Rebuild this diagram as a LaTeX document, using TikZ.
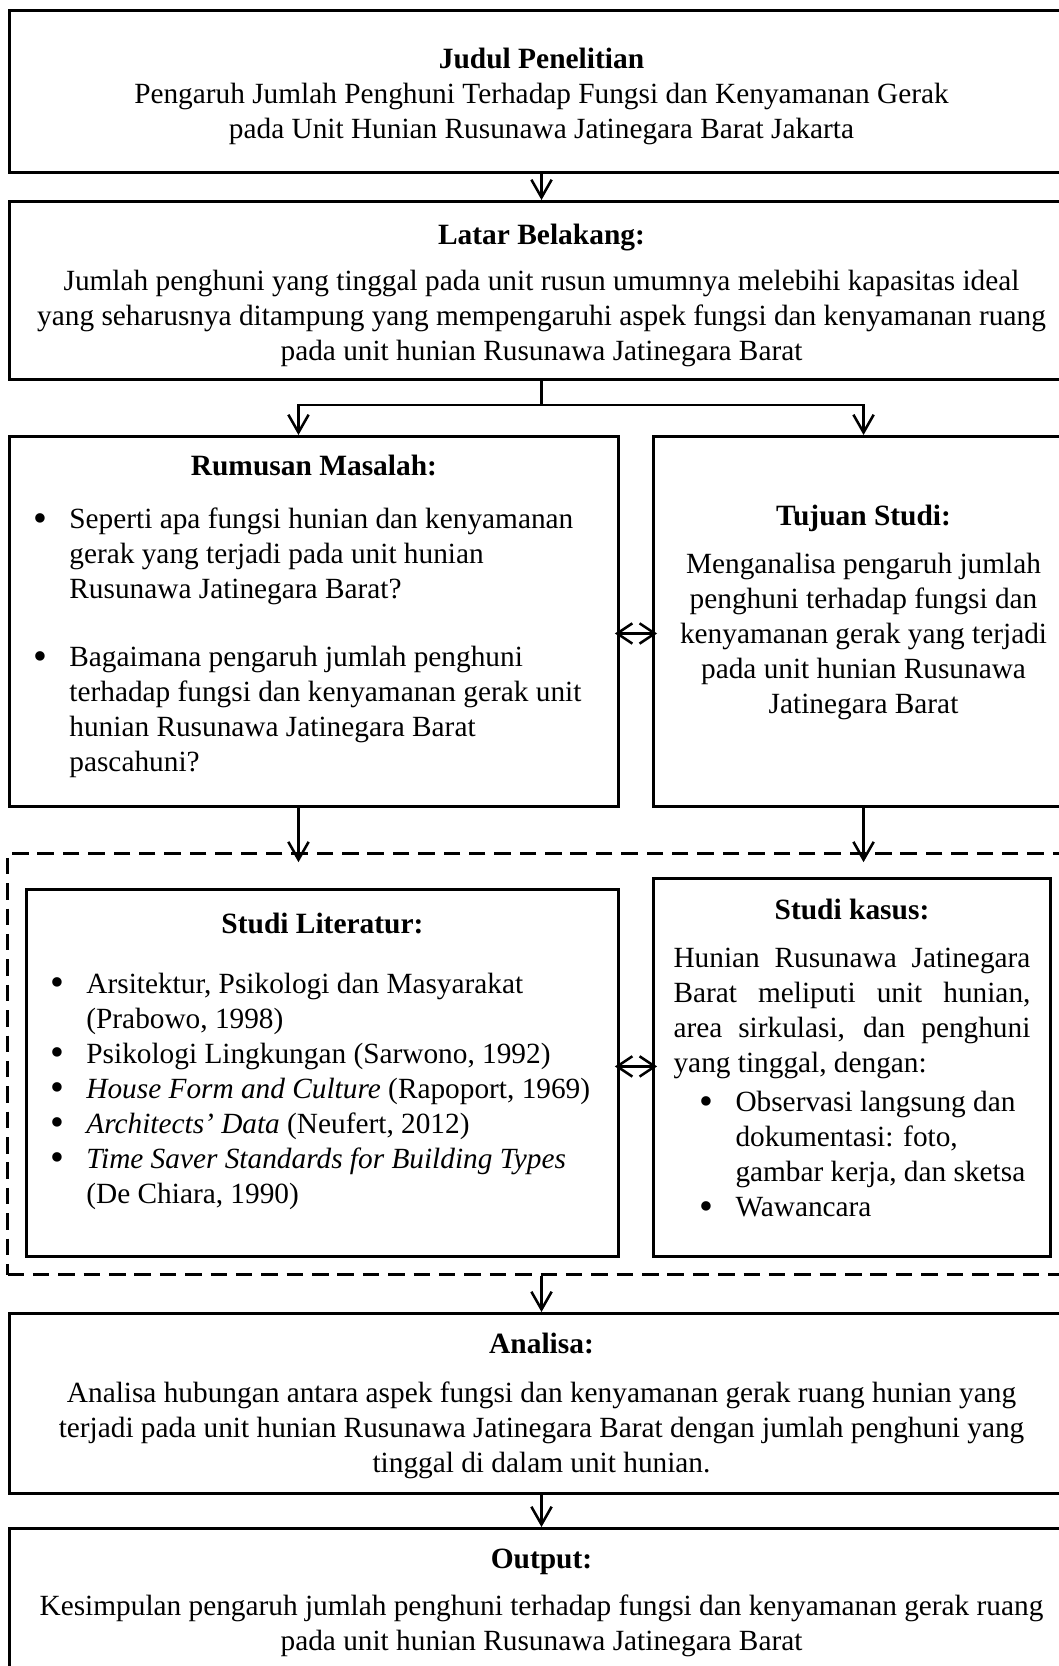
\documentclass[tikz,border=0pt]{standalone}
\usepackage{fontspec}
\setmainfont{Liberation Serif}
\usepackage{enumitem}
\usepackage{graphicx}
\usetikzlibrary{arrows.meta,positioning,calc}
\newcommand{\bigbullet}{\raisebox{-0.08em}{\scalebox{1.35}{\textbullet}}}
\newcommand{\boxtitle}[1]{{\fontsize{11.6}{13.8}\selectfont\textbf{#1}}}
\setlist[itemize]{label=\bigbullet, topsep=0pt, partopsep=0pt, parsep=0pt, itemsep=0pt,
  leftmargin=23.6pt, labelsep=8.8pt}
\tikzset{
  flow/.style={-{Straight Barb[length=7pt,width=8pt]}, line width=1pt},
  link/.style={line width=1pt},
  mutual/.style={{Straight Barb[length=6pt,width=8pt]}-{Straight Barb[length=6pt,width=8pt]},
                 line width=1pt, shorten <=-2pt, shorten >=-2pt},
  box/.style={draw, line width=1.2pt, anchor=north west, inner sep=0pt, align=flush center,
              font=\fontsize{11.55}{13.8}\selectfont},
  listbox/.style={box, align=flush left},
  studyframe/.style={draw, line width=1.2pt, dash pattern=on 6.5pt off 3.5pt,
                     anchor=north west, inner sep=0pt},
}

\begin{document}
\begin{tikzpicture}[x=0.394pt, y=-0.394pt]
  \useasboundingbox (0,0) rectangle (1059,1666);
  \clip (0,0) rectangle (1059,1666);

  \node[box, text width=419.2pt, text height=22.9pt, text depth=41pt] (judul) at (8,9)
    {\boxtitle{Judul Penelitian}\\
     Pengaruh Jumlah Penghuni Terhadap Fungsi dan Kenyamanan Gerak\\
     pada Unit Hunian Rusunawa Jatinegara Barat Jakarta};
  \node[box, text width=419.2pt, text height=16.9pt, text depth=53.2pt] (latar) at (8,200)
    {\boxtitle{Latar Belakang:}\\[4.3pt]
     Jumlah penghuni yang tinggal pada unit rusun umumnya melebihi kapasitas ideal\\
     yang seharusnya ditampung yang mempengaruhi aspek fungsi dan kenyamanan ruang\\
     pada unit hunian Rusunawa Jatinegara Barat};

  \node[listbox, text width=239.9pt, text height=15.4pt, text depth=130.4pt] (rumusan) at (8,435)
    {{\centering\boxtitle{Rumusan Masalah:}\par}
     \vspace{7.1pt}
     \begin{itemize}[itemsep=13pt]
       \item Seperti apa fungsi hunian dan kenyamanan\\ gerak yang terjadi pada unit hunian\\
             Rusunawa Jatinegara Barat?
       \item Bagaimana pengaruh jumlah penghuni\\ terhadap fungsi dan kenyamanan gerak unit\\
             hunian Rusunawa Jatinegara Barat\\ pascahuni?
     \end{itemize}};
  \node[box, text width=165.5pt, text height=35.1pt, text depth=110.7pt] (tujuan) at (652,435)
    {\boxtitle{Tujuan Studi:}\\[5.1pt]
     Menganalisa pengaruh jumlah\\ penghuni terhadap fungsi dan\\ kenyamanan gerak yang terjadi\\
     pada unit hunian Rusunawa\\ Jatinegara Barat};

  % kerangka studi (garis putus-putus)
  \node[studyframe, minimum width=421.2pt, minimum height=165.9pt] (kerangka) at (6,852) {};
  \node[listbox, text width=233.2pt, text height=17.3pt, text depth=127.3pt] (literatur) at (25,888)
    {{\centering\boxtitle{Studi Literatur:}\par}
     \vspace{9.8pt}
     \begin{itemize}
       \item Arsitektur, Psikologi dan Masyarakat\\ (Prabowo, 1998)
       \item Psikologi Lingkungan (Sarwono, 1992)
       \item \textit{House Form and Culture} (Rapoport, 1969)
       \item \textit{Architects' Data} (Neufert, 2012)
       \item \textit{Time Saver Standards for Building Types}\\ (De Chiara, 1990)
     \end{itemize}};
  \node[box, align=justify, inner xsep=7.9pt, text width=140.6pt, text height=16.2pt,
        text depth=132.8pt] (kasus) at (652,877)
    {{\centering\boxtitle{Studi kasus:}\par}
     \vspace{5.1pt}
     Hunian Rusunawa Jatinegara\linebreak Barat meliputi unit hunian,\linebreak
     area sirkulasi, dan penghuni\linebreak yang tinggal, dengan:\par
     \vspace{1.6pt}
     \begin{itemize}[leftmargin=24.4pt]
       \item Observasi langsung dan\\ dokumentasi: foto,\\ gambar kerja, dan sketsa
       \item Wawancara
     \end{itemize}};

  \node[box, text width=419.2pt, text height=15.8pt, text depth=55.2pt] (analisa) at (8,1312)
    {\boxtitle{Analisa:}\\[5.5pt]
     Analisa hubungan antara aspek fungsi dan kenyamanan gerak ruang hunian yang\\
     terjadi pada unit hunian Rusunawa Jatinegara Barat dengan jumlah penghuni yang\\
     tinggal di dalam unit hunian.};
  \node[box, text width=419.2pt, text height=15.8pt, text depth=52.4pt] (output) at (8,1527)
    {\boxtitle{Output:}\\[4.7pt]
     Kesimpulan pengaruh jumlah penghuni terhadap fungsi dan kenyamanan gerak ruang\\
     pada unit hunian Rusunawa Jatinegara Barat};

  % panah
  \coordinate (cabang) at ($(latar.south)+(0,24)$);
  \draw[flow] (judul.south) -- (latar.north);
  \draw[link] (latar.south) -- (cabang);
  \draw[flow] (cabang) -| ([xshift=-6.1pt]rumusan.north);
  \draw[flow] (cabang) -| (tujuan.north);
  \draw[flow, shorten >=-4pt] ([xshift=-6.1pt]rumusan.south) -- ([xshift=-6.1pt]rumusan.south |- kerangka.north);
  \draw[flow, shorten >=-4pt] (tujuan.south) -- (tujuan.south |- kerangka.north);
  \draw[mutual] ([yshift=-4.7pt]rumusan.east) -- ([yshift=-4.7pt]rumusan.east -| tujuan.west);
  \draw[mutual] ([yshift=2.6pt]literatur.east) -- ([yshift=2.6pt]literatur.east -| kasus.west);
  \draw[flow] (analisa.north |- kerangka.south) -- (analisa.north);
  \draw[flow] (analisa.south) -- (output.north);
\end{tikzpicture}
\end{document}
